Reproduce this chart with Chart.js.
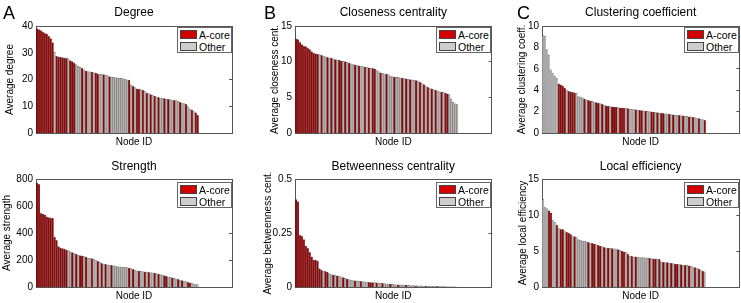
<!DOCTYPE html>
<html><head><meta charset="utf-8">
<script src="https://cdn.jsdelivr.net/npm/chart.js@4.4.0/dist/chart.umd.min.js"></script>
<style>
html,body{margin:0;padding:0;background:#fff;}
#wrap{position:relative;width:741px;height:303px;overflow:hidden;font-family:"Liberation Sans",Arial,sans-serif;color:#000;}
canvas{position:absolute;}
.lg{position:absolute;width:55px;height:26px;background:#fff;border:1px solid #666;box-sizing:border-box;font-size:10.5px;}
.sw{position:absolute;left:2px;width:17px;box-sizing:border-box;border:1px solid #444;}
.lt{position:absolute;left:21px;line-height:10px;white-space:nowrap;}
.pl{position:absolute;font-size:18px;line-height:18px;}
</style></head><body>
<div id="wrap">
<canvas id="cA1" width="245" height="150" style="left:0;top:0"></canvas>
<canvas id="cA2" width="245" height="153" style="left:0;top:150px"></canvas>
<canvas id="cB1" width="248" height="150" style="left:245px;top:0"></canvas>
<canvas id="cB2" width="248" height="153" style="left:245px;top:150px"></canvas>
<canvas id="cC1" width="248" height="150" style="left:493px;top:0"></canvas>
<canvas id="cC2" width="248" height="153" style="left:493px;top:150px"></canvas>
<div class="pl" style="left:3px;top:4px">A</div>
<div class="pl" style="left:264px;top:4px">B</div>
<div class="pl" style="left:517px;top:4px">C</div>
</div>
<script>
// ---------------- data ----------------
const legendLabels = ['A-core', 'Other'];
const axisLabelX = 'Node ID';

const degree = [39.0,38.7,38.3,37.8,37.3,37.0,36.2,35.3,33.8,30.2,28.7,28.5,28.3,28.2,28.0,27.9,27.8,27.1,26.7,26.2,
25.6,24.9,24.6,24.2,23.6,23.2,23.0,22.9,22.8,22.6,22.4,22.1,22.0,21.9,21.8,21.7,21.5,21.1,20.9,20.8,
20.7,20.6,20.5,20.4,20.3,20.1,19.9,19.8,18.0,17.5,17.0,16.5,16.4,16.2,16.0,15.6,15.0,14.7,14.4,14.1,
13.8,13.5,13.3,13.1,13.0,12.9,12.7,12.6,12.5,12.3,12.2,12.1,11.8,11.5,11.2,11.0,10.8,9.9,9.0,8.7,
8.0,7.6,6.6];
const degreeCore = [1,1,1,1,1,1,1,1,1,0,1,1,1,1,1,1,0,1,1,1,
0,0,0,1,0,1,0,0,1,0,1,1,0,0,1,0,0,1,0,0,
0,0,0,0,0,0,0,1,0,1,0,1,1,0,1,0,1,0,1,0,
1,0,1,0,0,1,0,1,0,0,1,0,0,1,0,0,1,0,0,1,
0,1,1];

const strength = [770,760,545,540,535,520,515,512,510,370,345,300,290,285,282,275,270,262,255,250,
242,236,232,230,228,222,214,212,210,205,200,190,182,175,170,168,165,163,160,158,
155,152,150,150,148,146,143,140,136,130,124,120,118,116,114,112,110,108,107,105,
103,100,96,92,88,84,80,76,72,68,64,60,56,52,48,44,40,35,30,27,
24,20,18];
const strengthCore = [1,1,1,1,1,1,1,1,1,1,1,1,1,1,1,1,0,0,1,0,
1,0,1,1,0,1,0,0,1,0,0,1,0,1,0,1,0,0,1,0,
0,0,0,0,0,0,0,1,0,1,0,0,1,0,0,1,0,1,0,0,
1,0,1,0,0,1,1,0,0,1,0,0,1,0,1,0,0,1,1,0,
0,0,0];

const closeness = [13.2,13.1,12.7,12.4,12.2,12.1,11.9,11.7,11.4,11.2,11.1,11.05,11.0,10.9,10.8,10.7,10.6,10.55,10.5,10.4,
10.3,10.25,10.2,10.1,10.05,10.0,9.9,9.8,9.7,9.6,9.55,9.5,9.4,9.35,9.3,9.25,9.2,9.15,9.1,9.05,
9.0,8.8,8.6,8.45,8.35,8.3,8.25,8.2,8.0,7.9,7.85,7.8,7.8,7.75,7.7,7.7,7.6,7.55,7.5,7.45,
7.4,7.35,7.3,7.1,7.0,6.8,6.6,6.4,6.3,6.2,6.1,6.0,5.9,5.8,5.75,5.7,5.6,5.5,5.4,4.8,
4.3,4.1,4.0];
const closenessCore = [1,1,1,1,1,1,1,1,1,1,1,1,0,1,0,0,1,0,1,0,
1,0,1,1,0,1,0,1,0,0,1,0,1,0,0,1,0,1,0,1,
1,0,0,1,0,0,1,0,0,0,1,0,0,0,1,0,1,0,1,0,
0,1,0,1,0,1,0,1,0,1,0,1,0,0,1,0,1,1,0,0,
0,0,0];

const betweenness = [0.405,0.395,0.24,0.235,0.22,0.19,0.18,0.16,0.14,0.125,0.125,0.12,0.085,0.078,0.074,0.072,0.068,0.062,0.058,0.056,
0.054,0.052,0.05,0.047,0.044,0.04,0.037,0.034,0.032,0.03,0.029,0.028,0.027,0.026,0.025,0.024,0.023,0.022,0.021,0.0205,
0.02,0.0195,0.019,0.018,0.017,0.016,0.015,0.014,0.013,0.012,0.011,0.0105,0.01,0.0095,0.009,0.0085,0.008,0.0075,0.007,0.0065,
0.006,0.0058,0.0055,0.0052,0.005,0.0047,0.0044,0.0041,0.0038,0.0035,0.0032,0.003,0.0027,0.0024,0.0021,0.0018,0.0015,0.0012,0.001,0.0007,
0.0005,0.0003,0.0001];
const betweennessCore = [1,1,1,1,1,1,1,1,1,1,1,1,1,1,0,1,1,0,0,1,
0,1,0,0,1,0,1,0,0,0,1,0,0,1,0,0,0,1,1,1,
0,1,0,0,1,0,0,0,1,0,0,0,1,0,0,0,1,0,0,0,
0,1,0,0,0,0,1,0,0,0,0,0,1,0,0,0,0,0,0,0,
0,0,0];

const clustering = [9.1,9.05,7.8,7.3,5.9,5.6,5.3,5.1,4.6,4.5,4.4,4.2,4.0,3.9,3.85,3.8,3.75,3.7,3.4,3.35,
3.3,3.2,3.1,3.05,3.0,2.95,2.9,2.85,2.8,2.75,2.7,2.6,2.55,2.5,2.48,2.45,2.43,2.4,2.38,2.36,
2.34,2.32,2.3,2.28,2.25,2.22,2.2,2.18,2.15,2.12,2.1,2.07,2.05,2.02,2.0,1.98,1.95,1.93,1.9,1.88,
1.85,1.83,1.8,1.78,1.75,1.72,1.7,1.68,1.66,1.64,1.62,1.6,1.57,1.55,1.52,1.5,1.47,1.44,1.4,1.35,
1.3,1.25,1.2];
const clusteringCore = [0,0,0,0,0,0,0,0,1,1,1,1,0,1,1,1,1,0,0,0,
0,1,0,1,1,0,0,1,1,0,1,0,1,1,0,1,1,1,0,1,
1,1,0,1,0,0,0,1,0,1,1,0,1,0,0,1,1,0,1,0,
1,1,0,0,1,0,1,0,0,1,0,1,0,0,1,0,1,0,0,1,
0,0,1];

const localEff = [12.2,11.1,10.9,10.6,10.3,9.3,9.0,8.6,8.2,8.0,8.0,7.8,7.6,7.5,7.3,7.1,7.0,6.9,6.6,6.5,
6.4,6.35,6.3,6.2,6.1,6.05,6.0,5.9,5.8,5.7,5.6,5.5,5.45,5.4,5.4,5.35,5.3,5.3,5.2,5.1,
5.0,4.9,4.8,4.6,4.3,4.25,4.2,4.2,4.15,4.1,4.1,4.1,4.05,4.0,4.0,3.95,3.9,3.9,3.88,3.85,
3.5,3.45,3.4,3.4,3.35,3.3,3.25,3.2,3.15,3.1,3.1,3.05,3.0,3.0,2.95,2.9,2.8,2.7,2.6,2.5,
2.4,2.2,2.1];
const localEffCore = [0,0,0,1,1,0,0,1,0,1,1,0,1,1,1,0,1,0,0,0,
0,0,0,1,0,1,1,0,1,1,0,1,0,1,0,1,0,0,1,0,
1,1,0,1,0,1,0,1,0,0,0,0,0,0,1,0,1,1,0,1,
0,1,0,1,0,1,0,1,1,0,1,0,1,0,1,0,0,1,0,1,
0,1,0];

const degreeTicks = [0,10,20,30,40];
const strengthTicks = [0,200,400,600,800];
const closenessTicks = [0,5,10,15];
const betweennessTicks = [0,0.25,0.5];
const clusteringTicks = [0,2,4,6,8,10];
const localEffTicks = [0,5,10,15];

const xSlots = 100;

// ---------------- styling ----------------
const RED_BAR = '#8e0707', GRAY_BAR = '#b3b3b3';
const BAR_EDGE = 'rgba(20,0,0,0.55)';
const RED_SW = '#d20000', GRAY_SW = '#cdcdcd';
const AXIS = '#555';
Chart.defaults.font.family = '"Liberation Sans", Arial, sans-serif';
Chart.defaults.color = '#000';

function makePanel(p) {
  const el = document.getElementById(p.id);
  const W = el.width, H = el.height;
  const tmin = p.ticks[0], tmax = p.ticks[p.ticks.length - 1];
  const setTicks = s => { s.ticks = p.ticks.map(v => ({value: v})); };
  new Chart(el, {
    type: 'bar',
    data: {
      datasets: [{
        data: p.values.map((v, i) => ({x: i + 1, y: v})),
        backgroundColor: p.core.map(c => c ? RED_BAR : GRAY_BAR),
        borderColor: BAR_EDGE,
        borderWidth: {left: 0.6, right: 0, top: 0.6, bottom: 0},
        borderSkipped: false,
        barPercentage: 1,
        categoryPercentage: 1
      }]
    },
    options: {
      responsive: false,
      animation: false,
      events: [],
      layout: {padding: 0},
      plugins: {
        legend: {display: false},
        tooltip: {enabled: false},
        title: {
          display: true, text: p.title, fullSize: false,
          font: {size: 12, weight: 'normal', lineHeight: 1.2},
          color: '#000',
          padding: {top: p.tPadTop, bottom: p.tPadBot}
        }
      },
      scales: {
        x: {
          type: 'linear', position: 'bottom', min: 0.5, max: xSlots + 0.5, offset: false,
          ticks: {display: false},
          grid: {display: false, drawTicks: false},
          border: {display: true, color: AXIS, width: 1},
          title: {display: true, text: axisLabelX, font: {size: 10, lineHeight: 1.2}, color: '#000', padding: {top: 0, bottom: p.xPadBot}},
          afterFit: s => { s.height = H - p.plotB; }
        },
        x2: {
          type: 'linear', position: 'top', min: 0.5, max: xSlots + 0.5, offset: false,
          ticks: {display: false},
          grid: {display: false, drawTicks: false},
          border: {display: true, color: AXIS, width: 1},
          afterFit: s => { s.height = 0; }
        },
        y: {
          type: 'linear', position: 'left', min: tmin, max: tmax,
          afterBuildTicks: setTicks,
          ticks: {font: {size: 10}, color: '#000', padding: 3, callback: v => String(v)},
          grid: {display: false, drawTicks: false},
          border: {display: true, color: AXIS, width: 1},
          title: {display: true, text: p.ytitle, font: {size: 10, lineHeight: 1.2}, color: '#000', padding: {top: p.yPad, bottom: 0}},
          afterFit: s => { s.width = p.plotL; }
        },
        y2: {
          type: 'linear', position: 'right', min: tmin, max: tmax,
          afterBuildTicks: setTicks,
          ticks: {display: false},
          grid: {display: true, drawOnChartArea: false, drawTicks: true, tickLength: -3, color: AXIS},
          border: {display: true, color: AXIS, width: 1},
          afterFit: s => { s.width = W - p.plotR; }
        }
      }
    }
  });
  // legend (HTML)
  const lg = document.createElement('div');
  lg.className = 'lg';
  lg.style.left = p.lgX + 'px';
  lg.style.top = p.lgY + 'px';
  const cols = [RED_SW, GRAY_SW];
  legendLabels.forEach((t, k) => {
    const sw = document.createElement('div');
    sw.className = 'sw';
    sw.style.top = (k ? 14 : 2) + 'px';
    sw.style.height = '9px';
    sw.style.background = cols[k];
    lg.appendChild(sw);
    const tx = document.createElement('div');
    tx.className = 'lt';
    tx.style.top = (k ? 13.5 : 1.5) + 'px';
    tx.textContent = t;
    lg.appendChild(tx);
  });
  document.getElementById('wrap').appendChild(lg);
}

const panels = [
  {id:'cA1', title:'Degree', ytitle:'Average degree', values:degree, core:degreeCore, ticks:degreeTicks,
   plotL:36, plotR:232, plotB:133, tPadTop:5.8, tPadBot:5.8, xPadBot:2, yPad:4.5, lgX:177, lgY:27},
  {id:'cA2', title:'Strength', ytitle:'Average strength', values:strength, core:strengthCore, ticks:strengthTicks,
   plotL:36, plotR:232, plotB:137, tPadTop:9.8, tPadBot:4.8, xPadBot:1, yPad:1.5, lgX:177, lgY:182},
  {id:'cB1', title:'Closeness centrality', ytitle:'Average closeness cent.', values:closeness, core:closenessCore, ticks:closenessTicks,
   plotL:50, plotR:246.7, plotB:133, tPadTop:5.8, tPadBot:5.8, xPadBot:2, yPad:24, lgX:436, lgY:27},
  {id:'cB2', title:'Betweenness centrality', ytitle:'Average betweenness cent.', values:betweenness, core:betweennessCore, ticks:betweennessTicks,
   plotL:50, plotR:246.5, plotB:137, tPadTop:9.8, tPadBot:4.8, xPadBot:1, yPad:17, lgX:436, lgY:182},
  {id:'cC1', title:'Clustering coefficient', ytitle:'Average clustering coeff.', values:clustering, core:clusteringCore, ticks:clusteringTicks,
   plotL:49, plotR:246.3, plotB:133, tPadTop:5.8, tPadBot:5.8, xPadBot:2, yPad:23, lgX:684, lgY:27},
  {id:'cC2', title:'Local efficiency', ytitle:'Average local efficiency', values:localEff, core:localEffCore, ticks:localEffTicks,
   plotL:49, plotR:246.3, plotB:137, tPadTop:9.8, tPadBot:4.8, xPadBot:1, yPad:24, lgX:684, lgY:182}
];
panels.forEach(makePanel);
</script>
</body></html>
